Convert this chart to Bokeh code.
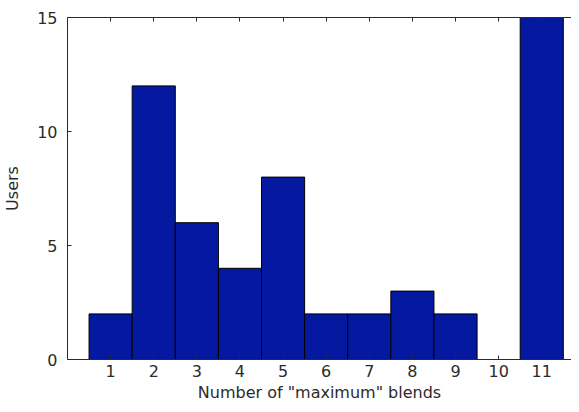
from bokeh.plotting import figure
from bokeh.models import LinearAxis, FixedTicker, ColumnDataSource, Range1d, CustomJSTickFormatter
from bokeh.embed import file_html
from bokeh.resources import INLINE

blends = [1, 2, 3, 4, 5, 6, 7, 8, 9, 10, 11]
users = [2, 12, 6, 4, 8, 2, 2, 3, 2, 0, 15]
x_ticks = [1, 2, 3, 4, 5, 6, 7, 8, 9, 10, 11]
y_ticks = [0, 5, 10, 15]

src = ColumnDataSource(data=dict(x=blends, top=users))

p = figure(width=571, height=404, output_backend="svg", toolbar_location=None,
           x_range=Range1d(0, 11.69), y_range=Range1d(0, 15),
           x_axis_location=None, y_axis_location=None,
           min_border_left=65, min_border_right=0, min_border_top=17, min_border_bottom=44)
p.outline_line_color = None
p.xgrid.visible = False
p.ygrid.visible = False
p.background_fill_color = "white"
p.border_fill_color = "white"

p.vbar(x="x", top="top", bottom=0, width=1, source=src,
       fill_color="#0519A0", line_color="black", line_width=1)

font = "DejaVu Sans"
tc = "#2b2b2b"

def style(ax):
    ax.axis_line_color = "#2a2a2a"
    ax.major_tick_line_color = "#2a2a2a"
    ax.major_tick_in = 4
    ax.major_tick_out = 0
    ax.minor_tick_line_color = None
    ax.major_label_text_font = font
    ax.major_label_text_font_size = "16px"
    ax.major_label_text_color = tc
    ax.axis_label_text_font = font
    ax.axis_label_text_font_size = "16px"
    ax.axis_label_text_font_style = "normal"
    ax.axis_label_text_color = tc

xb = LinearAxis(ticker=FixedTicker(ticks=x_ticks), axis_label='Number of "maximum" blends')
style(xb)
xb.major_label_standoff = 5
xb.axis_label_standoff = 3
p.add_layout(xb, "below")

yl = LinearAxis(ticker=FixedTicker(ticks=y_ticks), axis_label="Users")
style(yl)
yl.major_label_standoff = 10
yl.axis_label_standoff = 12
p.add_layout(yl, "left")

xt = LinearAxis(ticker=FixedTicker(ticks=x_ticks),
                formatter=CustomJSTickFormatter(code="return ''"))
style(xt)
xt.major_label_standoff = 0
p.add_layout(xt, "above")

open("out.html", "w").write(file_html(p, INLINE))
